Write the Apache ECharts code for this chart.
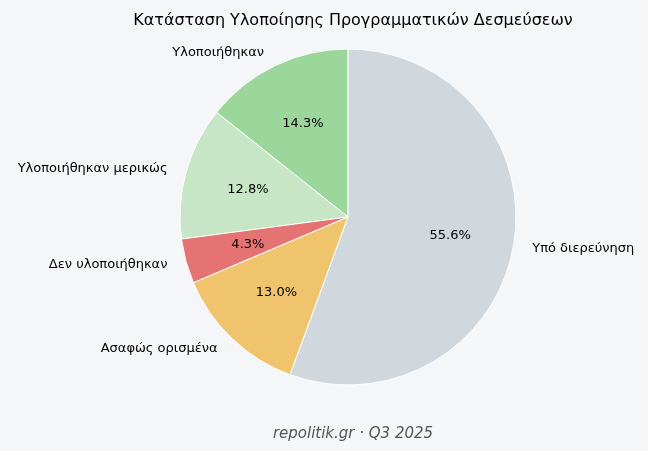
<!DOCTYPE html>
<html>
<head>
<meta charset="utf-8">
<script src="https://cdn.jsdelivr.net/npm/echarts@6/dist/echarts.min.js"></script>
<style>
  html, body { margin: 0; padding: 0; background: #f5f6f8; }
  #chart { width: 648px; height: 451px; }
</style>
</head>
<body>
<div id="chart"></div>
<script>
"use strict";

//
// Data
//
const categories = [
  "Υλοποιήθηκαν",
  "Υλοποιήθηκαν μερικώς",
  "Δεν υλοποιήθηκαν",
  "Ασαφώς ορισμένα",
  "Υπό διερεύνηση",
];
const values = [14.3, 12.8, 4.3, 13.0, 55.6];
const colors = ["#9bd69a", "#c6e6c6", "#e57373", "#f0c46c", "#d0d8de"];

const font = "DejaVu Sans";
const center = [348, 217];
const r = 168;

const pie_data = categories.map((name, i) => ({
  name: name,
  value: values[i],
  itemStyle: { color: colors[i] },
}));

const chart = echarts.init(document.getElementById("chart"));
chart.setOption({
  backgroundColor: "#f5f6f8",
  animation: false,
  title: [
    {
      text: "Κατάσταση Υλοποίησης Προγραμματικών Δεσμεύσεων",
      left: 348, top: 8, textAlign: "center",
      textStyle: { fontFamily: font, fontSize: 16, fontWeight: "normal", color: "#000" },
    },
    {
      text: "repolitik.gr · Q3 2025",
      left: 348, top: 422, textAlign: "center",
      textStyle: { fontFamily: font, fontSize: 15, fontStyle: "italic", fontWeight: "normal", color: "#555" },
    },
  ],
  series: [
    {
      // slices + outside names
      type: "pie",
      center: center,
      radius: [0, r],
      startAngle: 90,
      clockwise: false,
      data: pie_data,
      itemStyle: { borderColor: "#fff", borderWidth: 1 },
      label: {
        show: true, position: "outside", formatter: "{b}",
        fontFamily: font, fontSize: 13, color: "#000",
      },
      labelLine: { show: false, length: 14, length2: 0 },
      emphasis: { disabled: true },
    },
    {
      // transparent ring for percent labels at 0.6 r
      type: "pie",
      center: center,
      radius: [0, r * 1.2],
      startAngle: 90,
      clockwise: false,
      silent: true,
      data: pie_data.map((d) => ({ name: d.name, value: d.value })),
      itemStyle: { color: "transparent" },
      label: {
        show: true, position: "inside",
        formatter: (p) => p.value.toFixed(1) + "%",
        fontFamily: font, fontSize: 13, color: "#000",
      },
      labelLine: { show: false },
    },
  ],
});
</script>
</body>
</html>
